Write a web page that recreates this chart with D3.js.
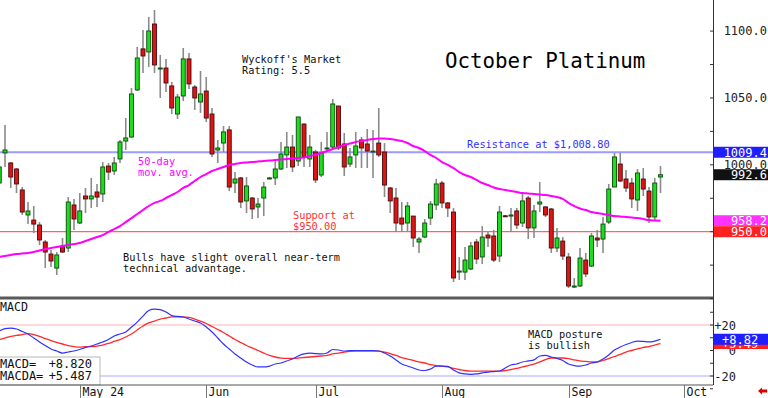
<!DOCTYPE html>
<html>
<head>
<meta charset="utf-8">
<script src="https://cdn.jsdelivr.net/npm/d3@7"></script>
<style>
  body { margin: 0; background: #fff; }
  svg { display: block; }
</style>
</head>
<body>
<svg id="chart" width="768" height="398"></svg>
<script>
// ---- data (daily candles, Apr 11 2024 .. Sep 25 2024) ----
const openP = [
  986.4, 1008.9, 1001.4, 996.9, 981.2, 962.5, 958.7, 955.0, 942.3, 933.3,
  922.8, 939.3, 937.8, 970.0, 956.5, 976.7, 974.5, 979.7, 978.2, 999.1,
  995.4, 1004.4, 1017.8, 1020.8, 1056.0, 1086.7, 1084.4, 1105.3, 1071.7, 1072.4,
  1059.0, 1038.0, 1051.5, 1079.2, 1058.2, 1047.0, 1055.2, 1038.0, 1011.1, 1016.3,
  1026.1, 986.4, 990.2, 973.0, 975.2, 968.5, 975.2, 989.8, 990.2, 996.9,
  1007.4, 1013.3, 1002.9, 1030.5, 1004.4, 1009.6, 992.4, 1012.2, 1013.3, 1044.0,
  1015.6, 1000.6, 1007.4, 1018.6, 1015.6, 1010.0, 1016.3, 1009.6, 982.7, 975.2,
  960.2, 956.5, 961.7, 942.3, 946.0, 960.2, 970.0, 986.4, 971.5, 964.7,
  919.8, 919.8, 922.1, 942.3, 931.1, 947.5, 946.8, 931.8, 961.9, 961.7,
  965.5, 956.5, 975.2, 952.8, 970.7, 968.5, 967.0, 937.8, 943.0, 931.1,
  908.6, 909.4, 928.8, 924.3, 945.3, 944.5, 957.2, 983.4, 1000.6, 989.4,
  986.4, 973.7, 989.4, 980.4, 961.0, 990.9
];
const highP = [
  1002.0, 1029.8, 1002.1, 997.6, 983.4, 972.2, 969.2, 957.2, 943.8, 936.3,
  934.8, 945.3, 975.9, 974.5, 978.9, 982.7, 990.2, 985.7, 1002.1, 1001.4,
  1005.9, 1018.6, 1035.0, 1057.5, 1088.1, 1100.9, 1110.6, 1115.8, 1082.2, 1079.2,
  1062.0, 1053.0, 1087.4, 1083.7, 1059.7, 1070.2, 1065.7, 1042.5, 1018.6, 1029.0,
  1029.0, 994.6, 990.9, 990.9, 975.9, 975.2, 987.2, 991.0, 1003.6, 1017.1,
  1024.6, 1022.3, 1035.8, 1031.0, 1022.3, 1011.1, 1017.1, 1024.6, 1049.2, 1044.0,
  1023.8, 1012.6, 1024.6, 1020.8, 1026.8, 1026.1, 1042.5, 1016.3, 983.4, 982.7,
  972.2, 972.2, 961.7, 946.0, 959.5, 973.0, 989.4, 987.9, 972.2, 967.7,
  931.1, 938.5, 942.3, 944.5, 954.2, 949.8, 951.3, 969.2, 962.5, 967.7,
  967.7, 979.7, 976.7, 970.0, 987.2, 969.2, 967.7, 952.8, 946.0, 934.1,
  915.4, 937.8, 934.1, 949.0, 951.3, 961.0, 985.7, 1008.9, 1008.9, 996.1,
  990.2, 996.9, 997.6, 983.4, 990.2, 999.1
];
const lowP = [
  983.0, 998.4, 982.7, 978.9, 962.5, 955.7, 949.0, 940.0, 922.8, 923.6,
  917.6, 934.1, 934.8, 951.3, 955.7, 964.0, 967.7, 968.5, 972.2, 988.7,
  992.4, 1001.4, 1011.1, 1020.1, 1055.2, 1068.7, 1073.2, 1068.7, 1050.0, 1054.5,
  1038.0, 1034.3, 1047.7, 1056.7, 1041.0, 1038.8, 1032.0, 1005.9, 1001.4, 1009.6,
  980.4, 978.9, 967.7, 964.0, 959.5, 960.2, 961.7, 989.0, 984.9, 996.1,
  997.6, 994.6, 999.1, 998.4, 998.4, 986.4, 990.9, 1009.6, 1012.6, 1011.1,
  991.6, 998.4, 997.6, 997.6, 997.6, 990.2, 1005.9, 975.9, 964.0, 949.8,
  949.8, 949.8, 938.5, 934.1, 945.3, 955.0, 966.2, 967.7, 961.0, 912.4,
  913.9, 913.9, 921.3, 925.8, 925.8, 938.5, 927.3, 927.3, 961.0, 949.8,
  952.0, 953.5, 944.5, 945.3, 964.7, 961.0, 934.1, 934.8, 928.8, 907.9,
  907.9, 908.6, 916.1, 923.6, 938.5, 934.1, 955.7, 983.4, 987.2, 979.7,
  967.7, 965.5, 976.7, 956.5, 958.7, 978.9
];
const closeP = [
  998.4, 1011.1, 990.9, 985.7, 964.7, 965.5, 955.7, 943.8, 934.8, 928.1,
  932.6, 934.8, 972.2, 959.5, 965.5, 974.5, 976.7, 975.9, 998.4, 994.6,
  1001.4, 1017.1, 1020.1, 1053.0, 1079.9, 1081.4, 1100.1, 1074.7, 1072.4, 1061.2,
  1042.5, 1050.7, 1079.2, 1060.5, 1050.0, 1053.0, 1035.0, 1008.1, 1012.6, 1024.6,
  983.4, 989.4, 972.2, 984.2, 967.0, 970.7, 983.4, 990.2, 996.9, 1008.1,
  1013.3, 998.4, 1035.8, 1005.9, 1013.3, 988.7, 1008.9, 1012.6, 1045.5, 1012.6,
  998.4, 1005.9, 1014.1, 1012.6, 1010.3, 1010.3, 1007.4, 984.9, 973.0, 956.5,
  955.7, 969.2, 945.3, 944.5, 956.5, 970.7, 985.7, 971.5, 967.7, 915.4,
  920.6, 928.8, 939.3, 929.6, 946.0, 945.3, 928.8, 964.7, 961.5, 962.5,
  955.0, 973.0, 952.8, 965.5, 972.2, 962.5, 937.8, 945.3, 931.8, 909.4,
  909.4, 930.3, 918.4, 946.8, 943.8, 955.7, 981.9, 1005.9, 987.9, 982.7,
  974.5, 993.9, 981.9, 961.0, 986.4, 992.6
];
// 50-day moving average as drawn
const ma50 = [
  931.1, 931.8, 932.6, 933.3, 933.7, 934.1, 934.8, 935.9, 937.0, 937.8,
  938.5, 939.3, 940.0, 940.8, 941.5, 943.0, 944.5, 946.0, 947.5, 949.8,
  952.0, 954.2, 957.2, 960.2, 963.2, 966.2, 969.2, 971.5, 973.0, 975.2,
  977.4, 979.7, 982.7, 984.9, 987.9, 990.9, 993.1, 995.4, 996.9, 998.4,
  999.9, 1000.6, 1001.4, 1001.8, 1002.1, 1002.5, 1002.9, 1003.2, 1003.6, 1004.0,
  1004.4, 1004.7, 1005.1, 1005.5, 1006.6, 1007.4, 1008.9, 1010.3, 1011.8, 1013.3,
  1014.8, 1015.9, 1017.1, 1017.8, 1018.6, 1019.3, 1019.7, 1019.7, 1019.3, 1018.6,
  1017.8, 1016.3, 1014.1, 1012.6, 1010.3, 1007.4, 1005.1, 1002.1, 999.9, 997.6,
  994.6, 992.4, 990.9, 988.7, 986.4, 984.9, 983.1, 981.9, 981.2, 980.4,
  979.7, 978.9, 978.6, 978.2, 977.8, 977.4, 976.7, 975.9, 974.5, 971.5,
  969.2, 967.3, 966.2, 964.7, 964.0, 963.2, 962.5, 961.7, 961.4, 961.0,
  960.6, 960.2, 959.5, 958.7, 958.4, 958.2
];
const macd = [
  15.3, 17.2, 17.6, 16.9, 14.9, 12.9, 9.8, 6.7, 3.9, 1.2,
  -0.4, -2.0, -1.2, -0.4, 0.8, 2.4, 3.5, 5.1, 6.7, 8.6,
  11.4, 12.9, 14.5, 18.4, 22.3, 27.0, 31.4, 32.5, 32.1, 30.2,
  27.4, 26.7, 26.3, 24.7, 23.1, 21.6, 18.4, 14.5, 9.8, 5.1,
  1.2, -2.7, -5.9, -9.0, -11.4, -12.9, -12.9, -12.2, -10.6, -9.8,
  -8.2, -6.7, -4.3, -2.7, -2.0, -2.4, -2.7, -2.0, 0.8, 0.4,
  -0.4, 0, 0, 0, 0, 0, -0.4, -2.0, -4.3, -7.4,
  -10.6, -12.2, -13.7, -15.3, -15.7, -14.5, -12.2, -12.2, -12.5, -15.3,
  -17.6, -18.4, -18.7, -18.4, -17.6, -16.9, -16.5, -16.1, -13.7, -11.4,
  -10.6, -9.0, -8.2, -7.4, -4.3, -3.9, -5.1, -6.3, -7.8, -10.6,
  -11.8, -12.2, -11.4, -9.8, -9.0, -6.7, -3.5, 0.4, 2.7, 4.7,
  6.3, 7.4, 7.1, 6.7, 7.4, 8.82
];
const macdAvg = [
  8.6, 9.8, 11.0, 11.8, 12.5, 13.3, 12.5, 11.0, 9.4, 7.8,
  6.3, 5.1, 3.9, 3.1, 2.7, 3.1, 3.1, 3.5, 4.3, 5.5,
  7.1, 8.6, 10.6, 12.9, 16.1, 19.2, 21.6, 23.1, 24.7, 25.5,
  26.3, 26.3, 26.3, 25.9, 24.7, 23.1, 21.2, 18.8, 16.5, 14.1,
  11.4, 8.6, 6.3, 3.9, 2.0, 0, -2.0, -3.9, -5.1, -5.9,
  -6.1, -6.1, -5.9, -5.5, -5.1, -4.7, -4.3, -3.9, -2.7, -2.0,
  -1.2, -0.6, -0.4, -0.4, -0.4, -0.4, -0.5, -1.2, -2.4, -3.9,
  -5.5, -6.7, -7.8, -9.0, -9.8, -11.0, -11.8, -12.2, -12.9, -14.1,
  -14.9, -15.7, -16.1, -16.1, -16.1, -16.1, -16.1, -16.1, -15.7, -14.9,
  -14.1, -12.9, -11.8, -10.6, -9.0, -7.1, -5.9, -5.9, -5.9, -6.3,
  -7.4, -8.2, -8.6, -9.0, -9.0, -7.8, -6.3, -4.7, -3.1, -1.2,
  0, 1.2, 2.4, 3.1, 4.3, 5.487
];
const resistance = 1009.4;
const support = 950.0;
const priceTicks = [1000, 1050, 1100];
const macdTicks = [20, 0, -20];
const holidays = ["2024-05-27", "2024-06-19", "2024-07-04", "2024-09-02"];

// ---- trading calendar ----
const fmtDay = d3.timeFormat("%Y-%m-%d");
const days = [];
for (let d = new Date(2024, 3, 11); days.length < 124; d = d3.timeDay.offset(d, 1)) {
  const wd = d.getDay();
  if (wd === 0 || wd === 6 || holidays.includes(fmtDay(d))) continue;
  days.push(new Date(d));
}
const monthStarts = [];
days.forEach((d, i) => { if (i > 0 && d.getMonth() !== days[i - 1].getMonth()) monthStarts.push(i); });

const candles = openP.map((o, i) => ({ i, o, h: highP[i], l: lowP[i], c: closeP[i] }));
const last = candles.length - 1;

// ---- scales ----
const svg = d3.select("#chart");
const plotW = 713;
const x = d3.scaleLinear().domain([0, last]).range([-0.75, 660.5]);
const y = d3.scaleLinear().domain([950, 1100]).range([231.7, 31.1]);
const ym = d3.scaleLinear().domain([-20, 20]).range([376, 325]);
const mono = "'DejaVu Sans Mono', monospace";

svg.append("rect").attr("width", 768).attr("height", 398).attr("fill", "#fff");

const defs = svg.append("defs");
defs.append("clipPath").attr("id", "clipP").append("rect")
  .attr("x", 0).attr("y", 0).attr("width", plotW).attr("height", 296);
defs.append("clipPath").attr("id", "clipM").append("rect")
  .attr("x", 0).attr("y", 300).attr("width", plotW).attr("height", 84);

// ---- price panel ----
const pp = svg.append("g").attr("clip-path", "url(#clipP)");

pp.append("line")
  .attr("x1", 0).attr("x2", plotW)
  .attr("y1", y(support)).attr("y2", y(support))
  .attr("stroke", "#ff6464").attr("stroke-width", 1.2);
pp.append("line")
  .attr("x1", 0).attr("x2", plotW)
  .attr("y1", y(resistance)).attr("y2", y(resistance))
  .attr("stroke", "#9a9aff").attr("stroke-width", 2);

const cg = pp.selectAll("g.candle").data(candles).enter().append("g").attr("class", "candle");
cg.append("line")
  .attr("x1", d => x(d.i)).attr("x2", d => x(d.i))
  .attr("y1", d => y(d.h)).attr("y2", d => y(d.l))
  .attr("stroke", "#8a8a8a").attr("stroke-width", 1.6);
cg.append("rect")
  .attr("x", d => x(d.i) - 2)
  .attr("width", 4)
  .attr("y", d => y(Math.max(d.o, d.c)))
  .attr("height", d => Math.max(1, Math.abs(y(d.o) - y(d.c))))
  .attr("fill", d => d.c >= d.o ? "#1edc1e" : "#dc1414")
  .attr("stroke", d => d.c >= d.o ? "#0a4a0a" : "#4a0a0a")
  .attr("stroke-width", 0.9);

pp.append("path")
  .datum(ma50)
  .attr("fill", "none")
  .attr("stroke", "#ff00ff")
  .attr("stroke-width", 2)
  .attr("d", d3.line().x((d, i) => x(i)).y(d => y(d)).curve(d3.curveMonotoneX));

// annotations
function note(lines, x0, y0, color, size, lh) {
  const t = svg.append("text").attr("font-family", mono).attr("font-size", size).attr("fill", color);
  lines.forEach((s, k) => t.append("tspan").attr("x", x0).attr("y", y0 + k * lh).text(s));
}
note(["October Platinum"], 445, 68, "#000", 20.8, 0);
note(["Wyckoff's Market", "Rating: 5.5"], 242, 63, "#111", 10.3, 11);
note(["Resistance at $1,008.80"], 467, 148, "#3232ff", 10.3, 0);
note(["50-day", "mov. avg."], 138, 165, "#ff00ff", 10.3, 10.5);
note(["Support at", "$950.00"], 293, 219, "#ff3030", 10.3, 11);
note(["Bulls have slight overall near-term", "technical advantage."], 123, 261, "#111", 10.3, 10.5);

// panel separator
svg.append("rect").attr("x", 0).attr("y", 296.5).attr("width", plotW).attr("height", 3).attr("fill", "#5a5a5a");

// ---- MACD panel ----
const mp = svg.append("g").attr("clip-path", "url(#clipM)");
mp.append("line").attr("x1", 0).attr("x2", plotW).attr("y1", ym(20)).attr("y2", ym(20))
  .attr("stroke", "#ffcccc").attr("stroke-width", 1.5);
mp.append("line").attr("x1", 0).attr("x2", plotW).attr("y1", ym(-20)).attr("y2", ym(-20))
  .attr("stroke", "#d4d4ff").attr("stroke-width", 2);
mp.append("path").datum(macdAvg)
  .attr("fill", "none").attr("stroke", "#ff2a2a").attr("stroke-width", 1.3)
  .attr("d", d3.line().x((d, i) => x(i)).y(d => ym(d)).curve(d3.curveMonotoneX));
mp.append("path").datum(macd)
  .attr("fill", "none").attr("stroke", "#3030ff").attr("stroke-width", 1.2)
  .attr("d", d3.line().x((d, i) => x(i)).y(d => ym(d)).curve(d3.curveMonotoneX));

note(["MACD"], 0, 311, "#111", 11.6, 0);
note(["MACD posture", "is bullish"], 528, 338, "#111", 10.3, 10.5);

// MACD value box
svg.append("rect").attr("x", -1).attr("y", 357).attr("width", 101).attr("height", 28)
  .attr("fill", "#fff").attr("stroke", "#b8b8b8");
const fmtM = d3.format("+.3f");
note(["MACD=", "MACDA="], 0, 368, "#111", 12, 12);
svg.append("text").attr("font-family", mono).attr("font-size", 12).attr("fill", "#111")
  .attr("text-anchor", "end").attr("x", 92).attr("y", 368).text(fmtM(macd[last]));
svg.append("text").attr("font-family", mono).attr("font-size", 12).attr("fill", "#111")
  .attr("text-anchor", "end").attr("x", 92).attr("y", 380).text(fmtM(macdAvg[last]));

// ---- x axis ----
svg.append("line").attr("x1", 0).attr("x2", plotW).attr("y1", 385).attr("y2", 385)
  .attr("stroke", "#555").attr("stroke-width", 1.2);
const fmtFirst = d3.timeFormat("%b %y"), fmtMon = d3.timeFormat("%b");
monthStarts.forEach((i, k) => {
  const xx = Math.round(x(i)) + 0.5;
  svg.append("line").attr("x1", xx).attr("x2", xx).attr("y1", 385).attr("y2", 398)
    .attr("stroke", "#777");
  svg.append("text").attr("font-family", mono).attr("font-size", 11.5).attr("fill", "#111")
    .attr("x", xx + 2).attr("y", 396)
    .text(k === 0 ? fmtFirst(days[i]) : fmtMon(days[i]));
});

// ---- right axis ----
svg.append("line").attr("x1", plotW + 0.5).attr("x2", plotW + 0.5).attr("y1", 0).attr("y2", 385)
  .attr("stroke", "#333");
d3.range(900, 1125, 25).forEach(v => {
  svg.append("line").attr("x1", plotW - 3).attr("x2", plotW).attr("y1", y(v)).attr("y2", y(v)).attr("stroke", "#333");
});
d3.range(-30, 40, 10).forEach(v => {
  svg.append("line").attr("x1", plotW - 3).attr("x2", plotW).attr("y1", ym(v)).attr("y2", ym(v)).attr("stroke", "#333");
});
const fmtP = d3.format(".1f");
macdTicks.forEach(v => {
  svg.append("text").attr("font-family", mono).attr("font-size", 12).attr("fill", "#222")
    .attr("text-anchor", "end").attr("x", 736).attr("y", ym(v) + 4.5).text(v > 0 ? "+" + v : String(v));
});

// value boxes on the right
function valueBox(yy, label, fill, anchor) {
  svg.append("rect").attr("x", plotW + 1).attr("y", yy - 5.5).attr("width", 768 - plotW).attr("height", 11).attr("fill", fill);
  svg.append("text").attr("font-family", mono).attr("font-size", 12).attr("fill", "#fff")
    .attr("text-anchor", anchor).attr("x", anchor === "end" ? 767 : 722).attr("y", yy + 4.3).text(label);
}
valueBox(y(resistance), fmtP(resistance), "#1e1eff", "end");
valueBox(y(closeP[last]), fmtP(closeP[last]), "#111", "end");
valueBox(y(ma50[last]), fmtP(ma50[last]), "#ff33ff", "end");
valueBox(y(support), fmtP(support), "#ff2020", "end");
valueBox(ym(macdAvg[last]), d3.format("+.2f")(macdAvg[last]), "#ff2020", "start");
valueBox(ym(macd[last]), d3.format("+.2f")(macd[last]), "#1e1eff", "start");

// price labels drawn last so 1000.0 stays readable between the boxes
priceTicks.forEach(v => {
  svg.append("text").attr("font-family", mono).attr("font-size", 12).attr("fill", "#222")
    .attr("text-anchor", "end").attr("x", 767).attr("y", y(v) + 4).text(fmtP(v));
});

// small red arrow, bottom right
svg.append("path")
  .attr("d", "M758,391 L762,387.5 L762,389.5 L767,389.5 L767,392.5 L762,392.5 L762,394.5 Z")
  .attr("fill", "#e00000");
</script>
</body>
</html>
